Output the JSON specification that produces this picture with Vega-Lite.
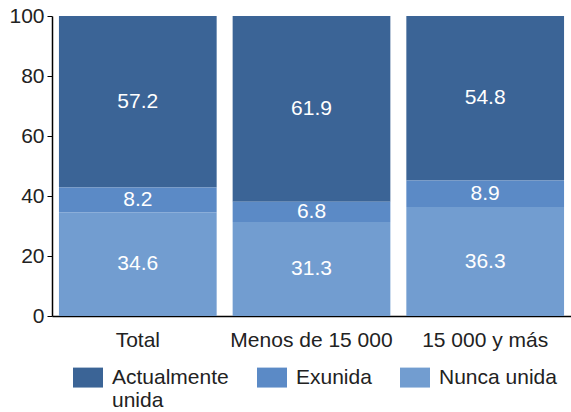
{
  "$schema": "https://vega.github.io/schema/vega-lite/v6.json",
  "width": 519,
  "height": 300,
  "autosize": "none",
  "padding": {"left": 52, "top": 16, "right": 0, "bottom": 96},
  "background": "white",
  "config": {
    "view": {"stroke": null},
    "font": "Liberation Sans",
    "axis": {"labelFont": "Liberation Sans", "labelColor": "#222222", "labelFontSize": 21, "grid": false, "domainColor": "#000000", "tickColor": "#000000", "title": null},
    "legend": {"labelFont": "Liberation Sans", "labelFontSize": 21, "labelColor": "#222222"}
  },
  "data": {
    "values": [
      {"grupo": "Total", "estado": "Actualmente unida", "orden": 3, "valor": 57.2},
      {"grupo": "Total", "estado": "Exunida", "orden": 2, "valor": 8.2},
      {"grupo": "Total", "estado": "Nunca unida", "orden": 1, "valor": 34.6},
      {"grupo": "Menos de 15 000", "estado": "Actualmente unida", "orden": 3, "valor": 61.9},
      {"grupo": "Menos de 15 000", "estado": "Exunida", "orden": 2, "valor": 6.8},
      {"grupo": "Menos de 15 000", "estado": "Nunca unida", "orden": 1, "valor": 31.3},
      {"grupo": "15 000 y más", "estado": "Actualmente unida", "orden": 3, "valor": 54.8},
      {"grupo": "15 000 y más", "estado": "Exunida", "orden": 2, "valor": 8.9},
      {"grupo": "15 000 y más", "estado": "Nunca unida", "orden": 1, "valor": 36.3}
    ]
  },
  "transform": [
    {"stack": "valor", "groupby": ["grupo"], "sort": [{"field": "orden", "order": "ascending"}], "as": ["lo", "hi"]},
    {"calculate": "(datum.lo + datum.hi) / 2", "as": "mid"}
  ],
  "encoding": {
    "x": {
      "field": "grupo", "type": "nominal",
      "sort": ["Total", "Menos de 15 000", "15 000 y más"],
      "scale": {"paddingInner": 0.092, "paddingOuter": 0.04},
      "axis": {"labelAngle": 0, "ticks": false, "labelPadding": 13, "domainWidth": 1.5}
    }
  },
  "layer": [
    {
      "mark": {"type": "bar"},
      "encoding": {
        "y": {"field": "lo", "type": "quantitative", "scale": {"domain": [0, 100], "nice": false},
          "axis": {"values": [0, 20, 40, 60, 80, 100], "tickSize": 5, "labelPadding": 3, "domainWidth": 1.5}},
        "y2": {"field": "hi"},
        "color": {
          "field": "estado", "type": "nominal",
          "sort": ["Actualmente unida", "Exunida", "Nunca unida"],
          "scale": {"domain": ["Actualmente unida", "Exunida", "Nunca unida"], "range": ["#3b6496", "#5b8ac6", "#729dd0"]},
          "legend": {
            "title": null,
            "orient": "none",
            "legendX": 21,
            "legendY": 336,
            "direction": "horizontal",
            "columns": 3,
            "columnPadding": 28,
            "symbolType": "M-1,0.04H1V1.37H-1Z",
            "symbolSize": 900,
            "symbolStrokeWidth": 0,
            "symbolOpacity": 1,
            "labelOffset": 9,
            "labelBaseline": "top",
            "labelExpr": "datum.label == 'Actualmente unida' ? ['Actualmente', 'unida'] : [datum.label, '']"
          }
        }
      }
    },
    {
      "mark": {"type": "text", "color": "white", "fontSize": 21, "baseline": "middle"},
      "encoding": {
        "y": {"field": "mid", "type": "quantitative"},
        "text": {"field": "valor", "type": "quantitative", "format": ".1f"}
      }
    }
  ]
}
